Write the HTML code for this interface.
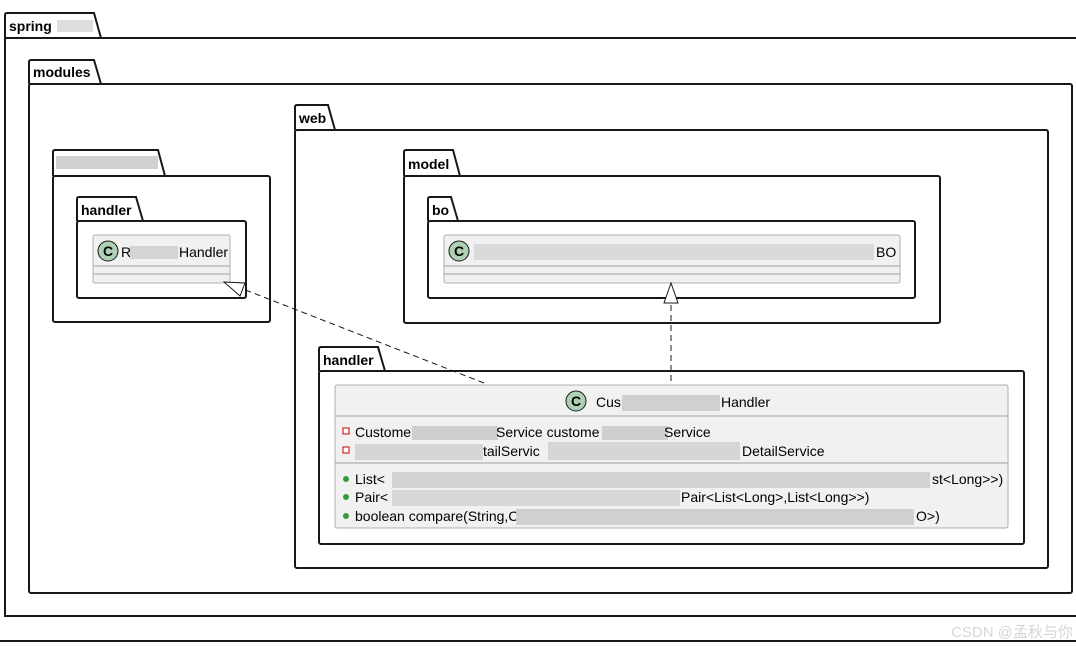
<!DOCTYPE html>
<html><head><meta charset="utf-8"><style>
body{margin:0;background:#fff;}
svg{display:block;font-family:"Liberation Sans",sans-serif;}
.b{font-weight:bold;font-size:14px;fill:#000;}
.t{font-size:14px;fill:#000;}
</style></head><body>
<svg width="1076" height="648" viewBox="0 0 1076 648">
<g fill="none" stroke="#181818" stroke-width="2">
<path d="M5,38 V15 Q5,13 7,13 H94 L101,38"/>
<path d="M5,38 H1076 M5,38 V616 H1076"/>
<path d="M29,84 V62 Q29,60 31,60 H94 L101,84"/>
<rect x="29" y="84" width="1043" height="509" rx="2"/>
<path d="M295,130 V107 Q295,105 297,105 H328 L335,130"/>
<rect x="295" y="130" width="753" height="438" rx="2"/>
<path d="M53,176 V152 Q53,150 55,150 H158 L165,176"/>
<rect x="53" y="176" width="217" height="146" rx="2"/>
<path d="M77,221 V199 Q77,197 79,197 H136 L143,221"/>
<rect x="77" y="221" width="169" height="77" rx="2"/>
<path d="M404,176 V152 Q404,150 406,150 H453 L460,176"/>
<rect x="404" y="176" width="536" height="147" rx="2"/>
<path d="M428,221 V199 Q428,197 430,197 H451 L458,221"/>
<rect x="428" y="221" width="487" height="77" rx="2"/>
<path d="M319,371 V349 Q319,347 321,347 H378 L385,371"/>
<rect x="319" y="371" width="705" height="173" rx="2"/>
</g>
<line x1="0" y1="641" x2="1076" y2="641" stroke="#181818" stroke-width="2"/>
<text class="b" x="9" y="31">spring</text>
<rect x="57" y="20" width="36" height="12" fill="#ddd"/>
<text class="b" x="33" y="77">modules</text>
<text class="b" x="299" y="123">web</text>
<rect x="56" y="156" width="102" height="13" fill="#d0d0d0"/>
<text class="b" x="81" y="215">handler</text>
<text class="b" x="408" y="169">model</text>
<text class="b" x="432" y="215">bo</text>
<text class="b" x="323" y="365">handler</text>
<g stroke="#b0b0b0" stroke-width="1" fill="#f1f1f1">
<rect x="93" y="235" width="137" height="48" rx="2"/>
<rect x="444" y="235" width="456" height="48" rx="2"/>
<rect x="335" y="385" width="673" height="143" rx="2"/>
</g>
<g stroke="#b0b0b0" stroke-width="1.3">
<line x1="93" y1="266" x2="230" y2="266"/><line x1="93" y1="274" x2="230" y2="274"/>
<line x1="444" y1="266" x2="900" y2="266"/><line x1="444" y1="274" x2="900" y2="274"/>
<line x1="335" y1="416" x2="1008" y2="416"/><line x1="335" y1="463" x2="1008" y2="463"/>
</g>
<g fill="#add1b2" stroke="#181818" stroke-width="1">
<circle cx="108" cy="251" r="10"/><circle cx="459" cy="251" r="10"/><circle cx="576" cy="401" r="10"/>
</g>
<g font-size="14" font-weight="bold" text-anchor="middle" fill="#000">
<text x="108" y="256">C</text><text x="459" y="256">C</text><text x="576" y="406">C</text>
</g>
<text class="t" x="121" y="257">R</text><rect x="130" y="246" width="48" height="13" fill="#d4d4d4"/><text class="t" x="179" y="257">Handler</text>
<rect x="474" y="244" width="400" height="16" fill="#dadada"/><text class="t" x="876" y="257">BO</text>
<text class="t" x="596" y="407">Cus</text><rect x="622" y="395" width="98" height="16" fill="#d0d0d0"/><text class="t" x="721" y="407">Handler</text>
<g fill="#fff" stroke="#c00" stroke-width="1"><rect x="343" y="428" width="6" height="6"/><rect x="343" y="447" width="6" height="6"/></g>
<g fill="#3a9a3a"><circle cx="346" cy="479" r="3"/><circle cx="346" cy="497" r="3"/><circle cx="346" cy="516" r="3"/></g>
<text class="t" x="355" y="437">Custome</text><rect x="412" y="426" width="86" height="14" fill="#cfcfcf"/><text class="t" x="496" y="437">Service custome</text><rect x="602" y="426" width="66" height="14" fill="#cfcfcf"/><text class="t" x="664" y="437">Service</text>
<rect x="355" y="444" width="128" height="16" fill="#d6d6d6"/><text class="t" x="483" y="456">tailServic</text><rect x="548" y="442" width="192" height="18" fill="#d6d6d6"/><text class="t" x="742" y="456">DetailService</text>
<text class="t" x="355" y="484">List&lt;</text><rect x="392" y="472" width="538" height="16" fill="#d2d2d2"/><text class="t" x="932" y="484">st&lt;Long&gt;&gt;)</text>
<text class="t" x="355" y="502">Pair&lt;</text><rect x="392" y="490" width="288" height="16" fill="#d8d8d8"/><text class="t" x="681" y="502">Pair&lt;List&lt;Long&gt;,List&lt;Long&gt;&gt;)</text>
<text class="t" x="355" y="521">boolean compare(String,C</text><rect x="516" y="509" width="398" height="16" fill="#d0d0d0"/><text class="t" x="916" y="521">O&gt;)</text>
<g stroke="#181818" stroke-width="1" fill="none" stroke-dasharray="6,4">
<line x1="671" y1="381" x2="671" y2="303"/>
<line x1="484" y1="383" x2="243" y2="289"/>
</g>
<g stroke="#181818" stroke-width="1" fill="#fff">
<polygon points="671,283 664,303 678,303"/>
<polygon points="224,282 245,283 240,296"/>
</g>
<text x="1073" y="637" text-anchor="end" font-size="15" fill="#d6d6d6" font-family="Liberation Sans, Noto Sans CJK SC, sans-serif">CSDN @孟秋与你</text>
</svg>
</body></html>
